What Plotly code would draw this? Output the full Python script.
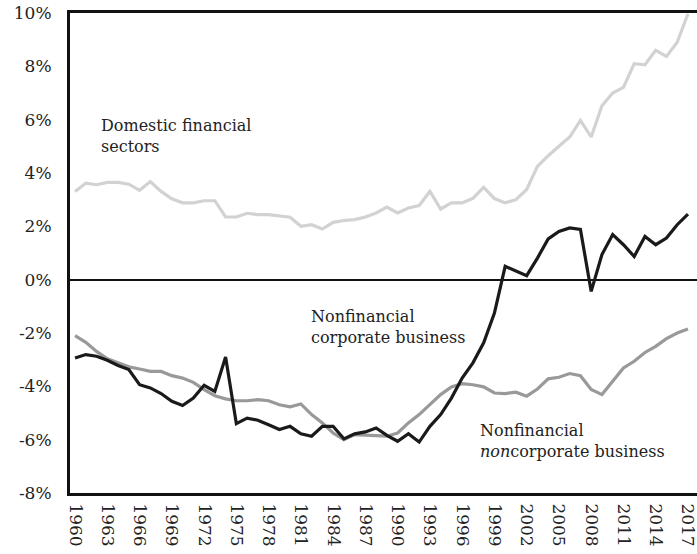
import plotly.graph_objects as go

years = list(range(1960, 2018))

financial = [3.31, 3.62, 3.56, 3.65, 3.65, 3.58, 3.35, 3.68, 3.31, 3.03,
             2.88, 2.88, 2.96, 2.96, 2.35, 2.35, 2.49, 2.44, 2.44, 2.38,
             2.34, 2.00, 2.06, 1.90, 2.15, 2.22, 2.25, 2.35, 2.50, 2.72,
             2.50, 2.69, 2.78, 3.31, 2.65, 2.88, 2.88, 3.05, 3.46, 3.04,
             2.88, 3.00, 3.38, 4.25, 4.65, 5.00, 5.35, 5.97, 5.35, 6.52,
             7.00, 7.21, 8.10, 8.06, 8.60, 8.37, 8.90, 9.97]

corporate = [-2.94, -2.81, -2.87, -3.02, -3.22, -3.37, -3.94, -4.06, -4.27, -4.56,
             -4.72, -4.44, -3.96, -4.19, -2.90, -5.40, -5.19, -5.27, -5.44, -5.62,
             -5.50, -5.78, -5.87, -5.50, -5.50, -5.97, -5.78, -5.71, -5.56, -5.84,
             -6.06, -5.78, -6.09, -5.50, -5.06, -4.44, -3.69, -3.12, -2.37, -1.25,
             0.50, 0.31, 0.15, 0.81, 1.53, 1.81, 1.94, 1.88, -0.44, 0.94,
             1.69, 1.31, 0.87, 1.62, 1.31, 1.56, 2.06, 2.46]

noncorporate = [-2.10, -2.35, -2.69, -2.97, -3.12, -3.27, -3.35, -3.44, -3.44, -3.60,
                -3.69, -3.85, -4.12, -4.35, -4.47, -4.54, -4.54, -4.50, -4.54, -4.69,
                -4.77, -4.66, -5.06, -5.37, -5.75, -6.00, -5.81, -5.84, -5.84, -5.87,
                -5.75, -5.37, -5.06, -4.69, -4.31, -4.02, -3.90, -3.94, -4.02, -4.25,
                -4.27, -4.22, -4.37, -4.10, -3.72, -3.66, -3.52, -3.60, -4.12, -4.31,
                -3.81, -3.31, -3.06, -2.73, -2.50, -2.21, -2.00, -1.85]

tick_years = list(range(1960, 2018, 3))
y_ticks = [-8, -6, -4, -2, 0, 2, 4, 6, 8, 10]

FONT = "Georgia, 'DejaVu Serif', serif"

fig = go.Figure()
fig.add_trace(go.Scatter(x=years, y=financial, mode="lines",
                         line=dict(color="#d2d2d2", width=3.2)))
fig.add_trace(go.Scatter(x=years, y=noncorporate, mode="lines",
                         line=dict(color="#999999", width=3.2)))
fig.add_trace(go.Scatter(x=years, y=corporate, mode="lines",
                         line=dict(color="#1a1a1a", width=3.2)))

ann = dict(showarrow=False, xanchor="left", yanchor="middle", align="left",
           font=dict(family=FONT, size=16, color="#222"))
fig.add_annotation(x=1962.2, y=5.4, text="Domestic financial<br>sectors", **ann)
fig.add_annotation(x=1981.8, y=-1.76, text="Nonfinancial<br>corporate business", **ann)
fig.add_annotation(x=1997.5, y=-6.04, text="Nonfinancial<br><i>non</i>corporate business", **ann)

fig.update_layout(
    width=697, height=554,
    margin=dict(l=70, r=0, t=13, b=61),
    paper_bgcolor="white", plot_bgcolor="white",
    showlegend=False,
    font=dict(family=FONT, size=17, color="#222"),
)
fig.update_xaxes(
    range=[1959.53, 2017.84], tickvals=tick_years, ticktext=[str(t) for t in tick_years],
    tickangle=90, showgrid=False, zeroline=False, automargin=False,
    showline=True, linecolor="#111", linewidth=3, mirror=True,
    ticks="", ticklabelstandoff=4, tickfont=dict(size=17), ticklabeloverflow="allow",
)
fig.update_yaxes(
    range=[-8, 10], tickvals=y_ticks, ticktext=[f"{v}%" for v in y_ticks],
    showgrid=False, zeroline=True, zerolinecolor="#111", zerolinewidth=2,
    showline=True, linecolor="#111", linewidth=3, automargin=False,
    ticks="", ticklabelstandoff=12, tickfont=dict(size=17), ticklabeloverflow="allow",
)

# drop the default body margin so the figure fills the window exactly
fig.write_html("out.html", config={"displayModeBar": False},
               post_script="document.body.style.margin='0';document.body.style.overflow='hidden';")
